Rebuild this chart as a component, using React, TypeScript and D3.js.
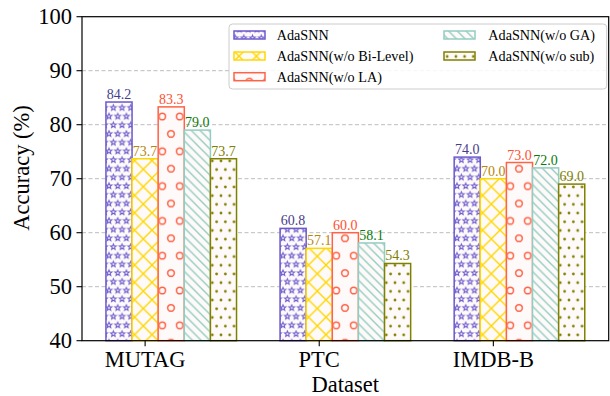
import React from "react";
import * as d3 from "d3";

const W = 610;
const H = 396;
const FONT = "'Liberation Serif', 'Times New Roman', Times, serif";

const datasets = ["MUTAG", "PTC", "IMDB-B"];
const methods = [
  "AdaSNN",
  "AdaSNN(w/o Bi-Level)",
  "AdaSNN(w/o LA)",
  "AdaSNN(w/o GA)",
  "AdaSNN(w/o sub)",
];
const adaSNN = [84.2, 60.8, 74.0];
const noBiLevel = [73.7, 57.1, 70.0];
const noLA = [83.3, 60.0, 73.0];
const noGA = [79.0, 58.1, 72.0];
const noSub = [73.7, 54.3, 69.0];
const yTicks = [40, 50, 60, 70, 80, 90, 100];

const seriesValues = [adaSNN, noBiLevel, noLA, noGA, noSub];
const edgeColors = ["#6a5acd", "#ffd700", "#ff6347", "#93cdc1", "#808000"];
const labelColors = ["#483d8b", "#b8860b", "#ff4f2e", "#0a7a0a", "#808000"];
const hatchIds = ["h-star", "h-x", "h-o", "h-back", "h-dot"];

const BAR_W = 0.15;
const margin = { left: 82, right: 608.7, top: 16.7, bottom: 340.7 };

// 5 point star outline
function starPath(cx: number, cy: number, R: number) {
  const r = R * 0.42;
  const pts: string[] = [];
  for (let i = 0; i < 10; i++) {
    const a = -Math.PI / 2 + (i * Math.PI) / 5;
    const rad = i % 2 === 0 ? R : r;
    pts.push(`${(cx + rad * Math.cos(a)).toFixed(2)},${(cy + rad * Math.sin(a)).toFixed(2)}`);
  }
  return "M" + pts.join("L") + "Z";
}

function Patterns() {
  const s = 17.4;
  const h = 8.7;
  const stagger = [[0, 0], [h, 0], [0, 2 * h], [h, 2 * h], [h / 2, h]];
  return (
    <defs>
      <pattern id="h-star" patternUnits="userSpaceOnUse" x={109} y={186} width={h} height={2 * h}>
        <rect width={h} height={2 * h} fill="#fffafa" />
        {stagger.map(([x, y], i) => (
          <path key={i} d={starPath(x, y, 3)} fill="none" stroke={edgeColors[0]} strokeWidth={1} />
        ))}
      </pattern>
      <pattern id="h-x" patternUnits="userSpaceOnUse" x={143.3} y={186.7} width={s} height={s}>
        <rect width={s} height={s} fill="#fffafa" />
        <path d={`M0,0L${s},${s}M0,${s}L${s},0`} stroke={edgeColors[1]} strokeWidth={1.4} />
      </pattern>
      <pattern id="h-o" patternUnits="userSpaceOnUse" x={345} y={238.3} width={s} height={2 * s}>
        <rect width={s} height={2 * s} fill="#fffafa" />
        {[[0, 0], [s, 0], [0, 2 * s], [s, 2 * s], [s / 2, s]].map(([x, y], i) => (
          <circle key={i} cx={x} cy={y} r={3.3} fill="none" stroke={edgeColors[2]} strokeWidth={1.5} />
        ))}
      </pattern>
      <pattern id="h-back" patternUnits="userSpaceOnUse" x={0} y={0} width={h} height={h}>
        <rect width={h} height={h} fill="#fffafa" />
        <path
          d={`M-1,-1L${h + 1},${h + 1}M-1,${h - 1}L1,${h + 1}M${h - 1},-1L${h + 1},1`}
          stroke={edgeColors[3]}
          strokeWidth={1.4}
        />
      </pattern>
      <pattern id="h-dot" patternUnits="userSpaceOnUse" x={569} y={282.7} width={h} height={2 * h}>
        <rect width={h} height={2 * h} fill="#fffafa" />
        {stagger.map(([x, y], i) => (
          <circle key={i} cx={x} cy={y} r={1.4} fill={edgeColors[4]} />
        ))}
      </pattern>
    </defs>
  );
}

export default function App() {
  const x = d3.scaleLinear().domain([-0.3625, 2.6625]).range([margin.left, margin.right]);
  const y = d3.scaleLinear().domain([40, 100]).range([margin.bottom, margin.top]);
  const bw = x(BAR_W) - x(0);

  const legendRows = [
    { i: 0, col: 0, row: 0 },
    { i: 1, col: 0, row: 1 },
    { i: 2, col: 0, row: 2 },
    { i: 3, col: 1, row: 0 },
    { i: 4, col: 1, row: 1 },
  ];
  const legendCols = [
    { patch: 234, text: 276.7 },
    { patch: 444, text: 488.3 },
  ];
  const rowY = [35, 56, 76.7];

  return (
    <svg width={W} height={H} style={{ position: "absolute", left: 0, top: 0, background: "#fff", fontFamily: FONT }}>
      <Patterns />
      {/* grid */}
      {yTicks.slice(1, -1).map((t) => (
        <line key={t} x1={margin.left} x2={margin.right} y1={y(t)} y2={y(t)} stroke="#bdbdbd" strokeDasharray="4,2.5" strokeWidth={1} />
      ))}

      {/* bars */}
      {seriesValues.map((vals, si) =>
        vals.map((v, di) => {
          const cx = x(di + (si - 1) * BAR_W);
          const top = y(v);
          return (
            <g key={si + "-" + di}>
              <rect
                x={cx - bw / 2}
                y={top}
                width={bw}
                height={y(40) - top}
                fill={`url(#${hatchIds[si]})`}
                stroke={edgeColors[si]}
                strokeWidth={1.5}
              />
              <text x={cx} y={top - 3} textAnchor="middle" fontSize={14} fill={labelColors[si]}>
                {v.toFixed(1)}
              </text>
            </g>
          );
        })
      )}

      {/* frame */}
      <rect
        x={margin.left}
        y={margin.top}
        width={margin.right - margin.left}
        height={margin.bottom - margin.top}
        fill="none"
        stroke="#000"
        strokeWidth={1.2}
      />

      {/* y axis */}
      {yTicks.map((t) => (
        <g key={t}>
          <line x1={margin.left - 5.5} x2={margin.left} y1={y(t)} y2={y(t)} stroke="#000" strokeWidth={1.1} />
          <text x={margin.left - 10} y={y(t)} dy="0.34em" textAnchor="end" fontSize={22.5}>
            {t}
          </text>
        </g>
      ))}
      <text transform="translate(29,168) rotate(-90)" textAnchor="middle" fontSize={22.5}>
        Accuracy (%)
      </text>

      {/* x axis */}
      {datasets.map((d, i) => (
        <g key={d}>
          <line x1={x(i)} x2={x(i)} y1={margin.bottom} y2={margin.bottom + 5.5} stroke="#000" strokeWidth={1.1} />
          <text x={x(i)} y={366.7} textAnchor="middle" fontSize={22.5}>
            {d}
          </text>
        </g>
      ))}
      <text x={(margin.left + margin.right) / 2} y={391.5} textAnchor="middle" fontSize={22.5}>
        Dataset
      </text>

      {/* legend */}
      <rect x={229} y={24} width={377.7} height={65} rx={3.5} fill="#fff" fillOpacity={0.85} stroke="#cccccc" strokeWidth={1} />
      {legendRows.map(({ i, col, row }) => (
        <g key={i}>
          <rect
            x={legendCols[col].patch}
            y={rowY[row] - 4}
            width={31}
            height={8}
            fill={`url(#${hatchIds[i]})`}
            stroke={edgeColors[i]}
            strokeWidth={1.5}
          />
          <text x={legendCols[col].text} y={rowY[row]} dy="0.34em" fontSize={14.2}>
            {methods[i]}
          </text>
        </g>
      ))}
    </svg>
  );
}
